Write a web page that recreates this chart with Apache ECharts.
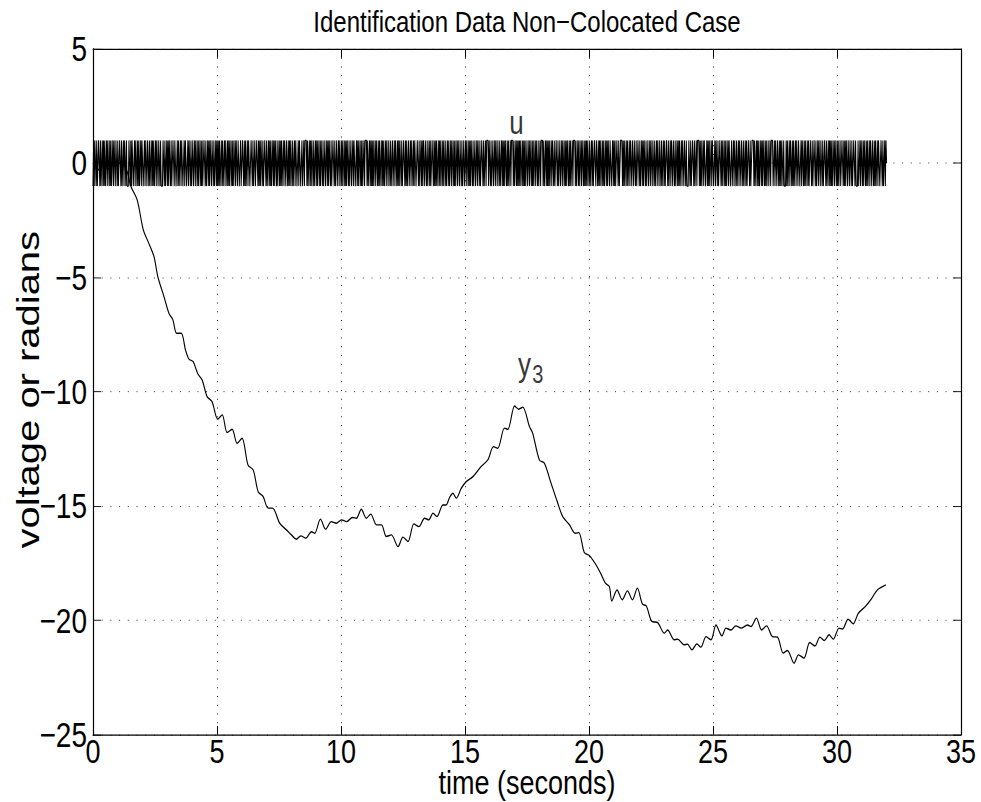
<!DOCTYPE html>
<html>
<head>
<meta charset="utf-8">
<script src="https://cdn.jsdelivr.net/npm/echarts@6/dist/echarts.min.js"></script>
<style>
  html, body { margin: 0; padding: 0; background: #fff; }
  body { width: 981px; height: 802px; }
  /* The figure is laid out 642px tall and stretched to fill the 802px page,
     which gives the tall, condensed lettering of the original printout. */
  #chart { width: 981px; height: 642px; transform: scaleY(1.24922); transform-origin: 0 0; }
</style>
</head>
<body>
<div id="chart"></div>
<script>
// Input signal u: binary sequence written in hex, 4 samples per digit, 0.025 s per sample
// (bit 1 -> +1, bit 0 -> -1)
const uHex = [
  "5A6952D4B69A5A3596A5", "96D2A5B4695A6CA5965A", "4B5A9A56D2A94B56A5B2", "6A59A4D5A6952B4A96D5",
  "A5964BA5695AD2569A4B", "5AB49656A5D2A96A54B6", "92D5A6A4B59A56D29AA5", "6B4A5A96D25AB4969A5D",
  "A4B6956A5D2AB5496A5A", "5D2A969A4B56A5D296AB", "4A6D5A95B2A69D4A5B69", "A5692DA5B4A696D2A5B4",
  "69A5D4B2A5969AD4B25A", "5B4A69D2A56A4B96D5A2", "96A5B2D4A69A5B4D2A96", "A4D5B69A25AD4B6A59A5"
];
const uStep = 0.025;   // seconds per sample
const uEnd = 32;       // input returns to zero here

// Measured output y3 (time in seconds, value in volts/radians)
const y3Time = [
  0, 0.2, 0.4, 0.6, 0.9, 1.2, 1.4, 1.52, 1.78, 2.03, 2.25, 2.46, 2.62, 2.86, 3.06, 3.22, 3.37, 3.56, 3.73, 3.87,
  4.04, 4.23, 4.40, 4.60, 4.80, 5.03, 5.21, 5.41, 5.61, 5.81, 6.01, 6.25, 6.46, 6.66, 6.86, 7.06, 7.24, 7.53, 7.80, 8.00,
  8.20, 8.38, 8.58, 8.81, 8.94, 9.17, 9.38, 9.61, 9.81, 10.02, 10.22, 10.46, 10.62, 10.82, 11.02, 11.20, 11.43, 11.63, 11.83, 12.03,
  12.30, 12.50, 12.70, 12.94, 13.14, 13.37, 13.54, 13.71, 13.87, 14.11, 14.24, 14.38, 14.51, 14.65, 14.85, 15.05, 15.32, 15.65, 15.92, 16.15,
  16.32, 16.59, 16.73, 17.00, 17.17, 17.33, 17.60, 17.73, 18.00, 18.20, 18.47, 18.74, 18.94, 19.21, 19.45, 19.59, 19.81, 20.02, 20.26, 20.46,
  20.66, 20.82, 20.92, 21.13, 21.34, 21.55, 21.75, 21.95, 22.15, 22.31, 22.53, 22.77, 23.04, 23.17, 23.44, 23.57, 23.84, 23.97, 24.15, 24.35,
  24.51, 24.72, 24.92, 25.12, 25.36, 25.52, 25.72, 25.92, 26.13, 26.39, 26.53, 26.75, 26.96, 27.16, 27.40, 27.60, 27.83, 28.00, 28.27, 28.45,
  28.67, 28.90, 29.11, 29.31, 29.49, 29.68, 29.85, 30.08, 30.22, 30.45, 30.65, 30.86, 31.16, 31.36, 31.63, 31.97
];
const y3Value = [
  0, -0.3, 0.05, -0.25, 0.0, 0.0, -0.45, -0.99, -1.60, -2.92, -3.50, -4.09, -4.99, -5.83, -6.56, -6.85, -7.44, -7.44, -8.17, -8.57,
  -8.68, -9.22, -9.48, -10.21, -10.43, -11.20, -11.01, -11.78, -11.64, -12.25, -12.03, -13.20, -13.42, -14.37, -14.58, -15.09, -15.09, -15.75, -16.04, -16.26,
  -16.45, -16.30, -16.40, -16.12, -16.19, -15.57, -16.01, -15.68, -15.75, -15.60, -15.68, -15.50, -15.53, -15.14, -15.53, -15.35, -15.82, -15.82, -16.33, -16.26,
  -16.77, -16.36, -16.55, -15.78, -15.90, -15.53, -15.60, -15.31, -15.46, -14.95, -14.95, -14.62, -14.44, -14.65, -14.22, -13.93, -13.71, -13.27, -12.98, -12.40,
  -12.47, -11.59, -11.64, -10.62, -10.76, -10.67, -11.52, -11.81, -12.98, -13.12, -14.00, -14.87, -15.46, -15.82, -16.19, -16.16, -17.03, -17.17, -17.53, -17.92,
  -18.37, -18.52, -19.15, -18.67, -19.10, -18.71, -19.10, -18.59, -19.28, -19.37, -20.04, -20.10, -20.56, -20.42, -20.85, -20.82, -21.07, -21.04, -21.29, -21.03,
  -21.17, -20.71, -20.85, -20.20, -20.68, -20.34, -20.42, -20.24, -20.34, -20.20, -20.27, -19.90, -20.42, -20.24, -20.71, -20.73, -21.43, -21.32, -21.87, -21.51,
  -21.65, -20.97, -21.12, -20.73, -20.88, -20.63, -20.82, -20.34, -20.38, -19.95, -20.15, -19.69, -19.37, -19.10, -18.67, -18.45
];

// Axis ranges and tick spacing
const xRange = [0, 35], xStep = 5;
const yRange = [-25, 5], yStep = 5;

const FONT = "'Liberation Sans', Arial, Helvetica, sans-serif";
const TICK_FS = 27, XNAME_FS = 27, YNAME_FS = 32, TITLE_FS = 24;

// unpack the hex digits into +/-1 samples
const uData = [];
uHex.join('').split('').forEach((h, k) => {
  const n = parseInt(h, 16);
  for (let b = 3; b >= 0; b--) uData.push([(k * 4 + (3 - b)) * uStep, (n >> b) & 1 ? 1 : -1]);
});
uData.push([uEnd, 0]);
const y3Data = y3Time.map((t, i) => [t, y3Value[i]]);

const minus = v => String(v).replace('-', '\u2212');

// vertical grid lines get stretched with the page, so their dash is set shorter
const vGrid = { show: true, lineStyle: { color: '#222', width: 1, type: [0.8, 6.2] } };
const hGrid = { show: true, lineStyle: { color: '#222', width: 0.8, type: [1, 7.7] } };
const tickX = { show: true, inside: true, length: 7, lineStyle: { color: '#000', width: 1 } };
const tickY = { show: true, inside: true, length: 8, lineStyle: { color: '#000', width: 0.8 } };
const lineX = { show: true, onZero: false, lineStyle: { color: '#000', width: 1 } };
const lineY = { show: true, onZero: false, lineStyle: { color: '#000', width: 1.2 } };

const chart = echarts.init(document.getElementById('chart'), null, { renderer: 'svg' });
chart.setOption({
  animation: false,
  backgroundColor: '#fff',
  grid: { left: 93, right: 20, top: 39.2, bottom: 53.9, containLabel: false, outerBoundsMode: 'none' },
  graphic: [{
    type: 'text', x: 527, y: 17,
    style: { text: 'Identification Data Non\u2212Colocated Case', font: TITLE_FS + 'px ' + FONT, fill: '#000',
             textAlign: 'center', textVerticalAlign: 'middle' }
  }, {
    type: 'text', x: 28, y: 312, rotation: Math.PI / 2,
    style: { text: 'voltage or radians', font: YNAME_FS + 'px ' + FONT, fill: '#000',
             textAlign: 'center', textVerticalAlign: 'middle' }
  }, {
    type: 'text', x: 527, y: 639,
    style: { text: 'time (seconds)', font: XNAME_FS + 'px ' + FONT, fill: '#000',
             textAlign: 'center', textVerticalAlign: 'bottom' }
  }],
  xAxis: [{
    type: 'value', min: xRange[0], max: xRange[1], interval: xStep,
    axisLine: lineX, axisTick: tickX, splitLine: vGrid,
    axisLabel: { fontFamily: FONT, fontSize: TICK_FS, lineHeight: 20, color: '#000', margin: 3, formatter: minus }
  }, {
    type: 'value', position: 'top', min: xRange[0], max: xRange[1], interval: xStep,
    axisLine: lineX, axisTick: tickX, splitLine: { show: false }, axisLabel: { show: false }
  }],
  yAxis: [{
    type: 'value', min: yRange[0], max: yRange[1], interval: yStep,
    axisLine: lineY, axisTick: tickY, splitLine: hGrid,
    axisLabel: { fontFamily: FONT, fontSize: 28, lineHeight: 22, color: '#000', margin: 6, formatter: minus }
  }, {
    type: 'value', position: 'right', min: yRange[0], max: yRange[1], interval: yStep,
    axisLine: lineY, axisTick: tickY, splitLine: { show: false }, axisLabel: { show: false }
  }],
  series: [{
    name: 'u', type: 'line', data: uData, showSymbol: false, symbol: 'none',
    lineStyle: { color: '#000', width: 1 }, silent: true
  }, {
    name: 'y3', type: 'line', data: y3Data, showSymbol: false, symbol: 'none', smooth: 0.3,
    lineStyle: { color: '#000', width: 1.1 }, silent: true
  }, {
    name: 'labels', type: 'scatter', symbolSize: 0, silent: true,
    data: [
      { value: [17.08, 1.8], label: { formatter: 'u', fontSize: 26 } },
      { value: [17.4, -8.78], label: { formatter: 'y', fontSize: 26 } },
      { value: [17.94, -9.24], label: { formatter: '3', fontSize: 20 } }
    ],
    label: { show: true, position: 'inside', color: '#000', fontFamily: FONT }
  }]
});
</script>
</body>
</html>
